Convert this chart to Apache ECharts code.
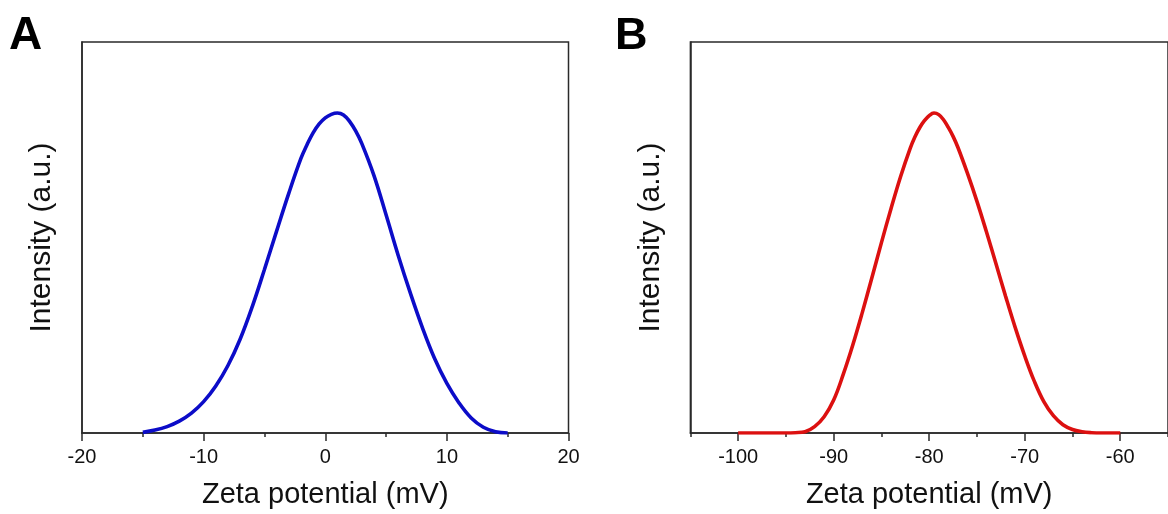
<!DOCTYPE html>
<html>
<head>
<meta charset="utf-8">
<script src="https://cdn.jsdelivr.net/npm/echarts@6/dist/echarts.min.js"></script>
<style>
  html, body { margin: 0; padding: 0; background: #fff; }
  #chart { width: 1168px; height: 514px; }
</style>
</head>
<body>
<div id="chart"></div>
<script>
// Panel A: zeta potential (mV) and normalised intensity
const xA = [-15,-14,-13,-12,-11,-10,-9,-8,-7,-6,-5,-4,-3,-2,-1.5,-1,-0.5,0,0.5,1,1.5,2,2.5,3,4,5,6,7,8,9,10,11,12,13,14,15];
const yA = [0.002,0.009,0.02,0.037,0.062,0.098,0.147,0.211,0.293,0.395,0.511,0.631,0.749,0.858,0.901,0.938,0.966,0.985,0.996,1.0,0.994,0.974,0.944,0.905,0.805,0.682,0.555,0.437,0.328,0.232,0.155,0.094,0.047,0.018,0.004,0.0];
// Panel B
const xB = [-100,-99,-98,-97,-96,-95,-94,-93,-92,-91,-90,-89,-88,-87,-86,-85,-84,-83,-82,-81.5,-81,-80.5,-80,-79.5,-79,-78.5,-78,-77.5,-77,-76,-75,-74,-73,-72,-71,-70,-69,-68,-67,-66,-65,-64,-63,-62,-61,-60];
const yB = [0,0,0,0,0,0,0.001,0.004,0.02,0.051,0.103,0.183,0.275,0.377,0.485,0.595,0.701,0.801,0.889,0.925,0.954,0.976,0.992,1.0,0.995,0.979,0.955,0.927,0.893,0.812,0.724,0.628,0.528,0.427,0.33,0.241,0.162,0.098,0.054,0.026,0.011,0.004,0.001,0,0,0];
const ticksB = [-100,-90,-80,-70,-60];
const xName = 'Zeta potential (mV)';
const yName = 'Intensity (a.u.)';

const FONT = "'Liberation Sans', Arial, sans-serif";
const AX = '#2a2a2a';

const chart = echarts.init(document.getElementById('chart'), null, {renderer: 'canvas'});

function pairs(xs, ys) { return xs.map((x, i) => [x, ys[i]]); }

const yAxisCommon = {
  type: 'value', min: 0, max: 1.222,
  axisLine: {show: true, onZero: false, lineStyle: {color: AX, width: 1.5}},
  axisTick: {show: false}, axisLabel: {show: false}, splitLine: {show: false},
  name: yName, nameLocation: 'middle', nameGap: 25,
  nameTextStyle: {fontFamily: FONT, fontSize: 30, color: '#111'}
};

const option = {
  animation: false,
  backgroundColor: '#fff',
  title: [
    {text: 'A', left: 9, top: 13, padding: 0, textStyle: {fontFamily: FONT, fontSize: 46, fontWeight: 'bold', color: '#000'}},
    {text: 'B', left: 615, top: 14, padding: 0, textStyle: {fontFamily: FONT, fontSize: 45, fontWeight: 'bold', color: '#000'}}
  ],
  grid: [
    {left: 82, top: 42, width: 486.5, height: 391, show: true, borderColor: AX, borderWidth: 1.5, backgroundColor: 'transparent'},
    {left: 690.4, top: 42, width: 483.3, height: 391, show: true, borderColor: AX, borderWidth: 1.5, backgroundColor: 'transparent'}
  ],
  xAxis: [
    {
      gridIndex: 0, type: 'value', min: -20, max: 20, interval: 10, position: 'bottom',
      axisLine: {show: true, onZero: false, lineStyle: {color: AX, width: 1.5}},
      axisTick: {show: true, length: 8, lineStyle: {color: AX, width: 1.5}},
      minorTick: {show: true, splitNumber: 2, length: 4, lineStyle: {color: AX, width: 1.5}},
      axisLabel: {fontFamily: FONT, fontSize: 20, color: '#111', margin: 14},
      splitLine: {show: false},
      name: xName, nameLocation: 'middle', nameGap: 47,
      nameTextStyle: {fontFamily: FONT, fontSize: 29, color: '#111'}
    },
    {
      gridIndex: 1, type: 'value', min: -105, max: -55, interval: 5, position: 'bottom',
      axisLine: {show: true, onZero: false, lineStyle: {color: AX, width: 1.5}},
      axisTick: {show: true, length: 4, lineStyle: {color: AX, width: 1.5}},
      axisLabel: {show: false},
      splitLine: {show: false}
    },
    {
      gridIndex: 1, type: 'value', min: -105, max: -55, position: 'bottom',
      axisLine: {show: false, onZero: false},
      axisTick: {show: true, length: 8, customValues: ticksB, lineStyle: {color: AX, width: 1.5}},
      axisLabel: {fontFamily: FONT, fontSize: 20, color: '#111', margin: 14, customValues: ticksB},
      splitLine: {show: false},
      name: xName, nameLocation: 'middle', nameGap: 47,
      nameTextStyle: {fontFamily: FONT, fontSize: 29, color: '#111'}
    }
  ],
  yAxis: [
    Object.assign({gridIndex: 0}, yAxisCommon),
    Object.assign({gridIndex: 1}, yAxisCommon)
  ],
  series: [
    {
      type: 'line', xAxisIndex: 0, yAxisIndex: 0, data: pairs(xA, yA),
      smooth: 0.4, showSymbol: false, symbol: 'none',
      lineStyle: {color: '#0c0cc8', width: 3.6}
    },
    {
      type: 'line', xAxisIndex: 2, yAxisIndex: 1, data: pairs(xB, yB),
      smooth: 0.4, showSymbol: false, symbol: 'none',
      lineStyle: {color: '#dc1010', width: 3.6}
    }
  ]
};
chart.setOption(option);
</script>
</body>
</html>
